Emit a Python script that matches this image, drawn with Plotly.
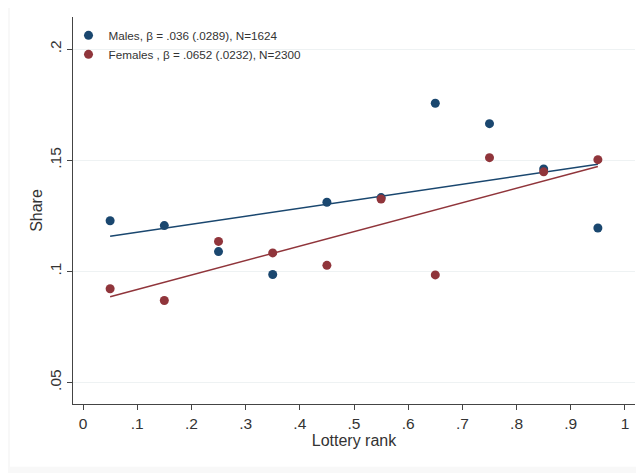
import plotly.graph_objects as go

# binned means by lottery rank decile
rank = [0.05, 0.15, 0.25, 0.35, 0.45, 0.55, 0.65, 0.75, 0.85, 0.95]
males_share = [0.1228, 0.1206, 0.1089, 0.0986, 0.1311, 0.1332, 0.1757, 0.1665, 0.1461, 0.1195]
females_share = [0.0922, 0.0869, 0.1135, 0.1083, 0.1027, 0.1326, 0.0984, 0.1512, 0.1448, 0.1503]

# linear fits (intercept, slope)
males_fit = (0.1140, 0.036)
females_fit = (0.0853, 0.0652)

males_label = "Males, β = .036 (.0289), N=1624"
females_label = "Females , β = .0652 (.0232), N=2300"

x_ticks = [0, 0.1, 0.2, 0.3, 0.4, 0.5, 0.6, 0.7, 0.8, 0.9, 1]
x_ticktext = ["0", ".1", ".2", ".3", ".4", ".5", ".6", ".7", ".8", ".9", "1"]
y_ticks = [0.05, 0.1, 0.15, 0.2]
y_ticktext = [".05", ".1", ".15", ".2"]

NAVY = "#1a476f"
MAROON = "#90353b"

fit_x = [rank[0], rank[-1]]


def fit_line(fit):
    a, b = fit
    return [a + b * x for x in fit_x]


fig = go.Figure()
fig.add_trace(go.Scatter(x=fit_x, y=fit_line(males_fit), mode="lines",
                         line=dict(color=NAVY, width=1.5), showlegend=False))
fig.add_trace(go.Scatter(x=fit_x, y=fit_line(females_fit), mode="lines",
                         line=dict(color=MAROON, width=1.5), showlegend=False))
fig.add_trace(go.Scatter(x=rank, y=males_share, mode="markers", name=males_label,
                         marker=dict(color=NAVY, size=9)))
fig.add_trace(go.Scatter(x=rank, y=females_share, mode="markers", name=females_label,
                         marker=dict(color=MAROON, size=9)))

axis_font = dict(family="Liberation Sans, Arial, sans-serif", size=15.5, color="#333333")

# page body has an 8px default margin, so the figure is 8px smaller and margins shifted
fig.update_layout(
    width=636, height=465,
    margin=dict(l=65, r=9, t=9, b=69),
    paper_bgcolor="#f8f8f8",
    plot_bgcolor="white",
    font=dict(family="Liberation Sans, Arial, sans-serif", color="#333333"),
    shapes=[dict(type="rect", xref="paper", yref="paper", layer="below",
                 x0=-0.112, x1=1.05, y0=-0.162, y1=1.05,
                 fillcolor="white", line=dict(width=0))],
    xaxis=dict(
        range=[-0.0185, 1.0185], tickvals=x_ticks, ticktext=x_ticktext,
        ticks="outside", ticklen=5, tickcolor="#444444",
        showline=True, linecolor="#444444", linewidth=1.2,
        showgrid=False, zeroline=False, tickfont=axis_font, automargin=False,
        title=dict(text="Lottery rank", font=dict(size=16), standoff=2),
    ),
    yaxis=dict(
        range=[0.0403, 0.2145], tickvals=y_ticks, ticktext=y_ticktext,
        ticks="outside", ticklen=5, tickcolor="#444444", tickangle=-90,
        showline=True, linecolor="#444444", linewidth=1.2,
        showgrid=True, gridcolor="#eef2f3", gridwidth=1,
        zeroline=False, tickfont=axis_font, automargin=False,
        title=dict(text="Share", font=dict(size=16), standoff=0),
    ),
    legend=dict(x=-0.008, y=0.99, xanchor="left", yanchor="top",
                bgcolor="rgba(0,0,0,0)", font=dict(size=11.7),
                itemwidth=30, tracegroupgap=0),
)

fig.write_html("out.html")
